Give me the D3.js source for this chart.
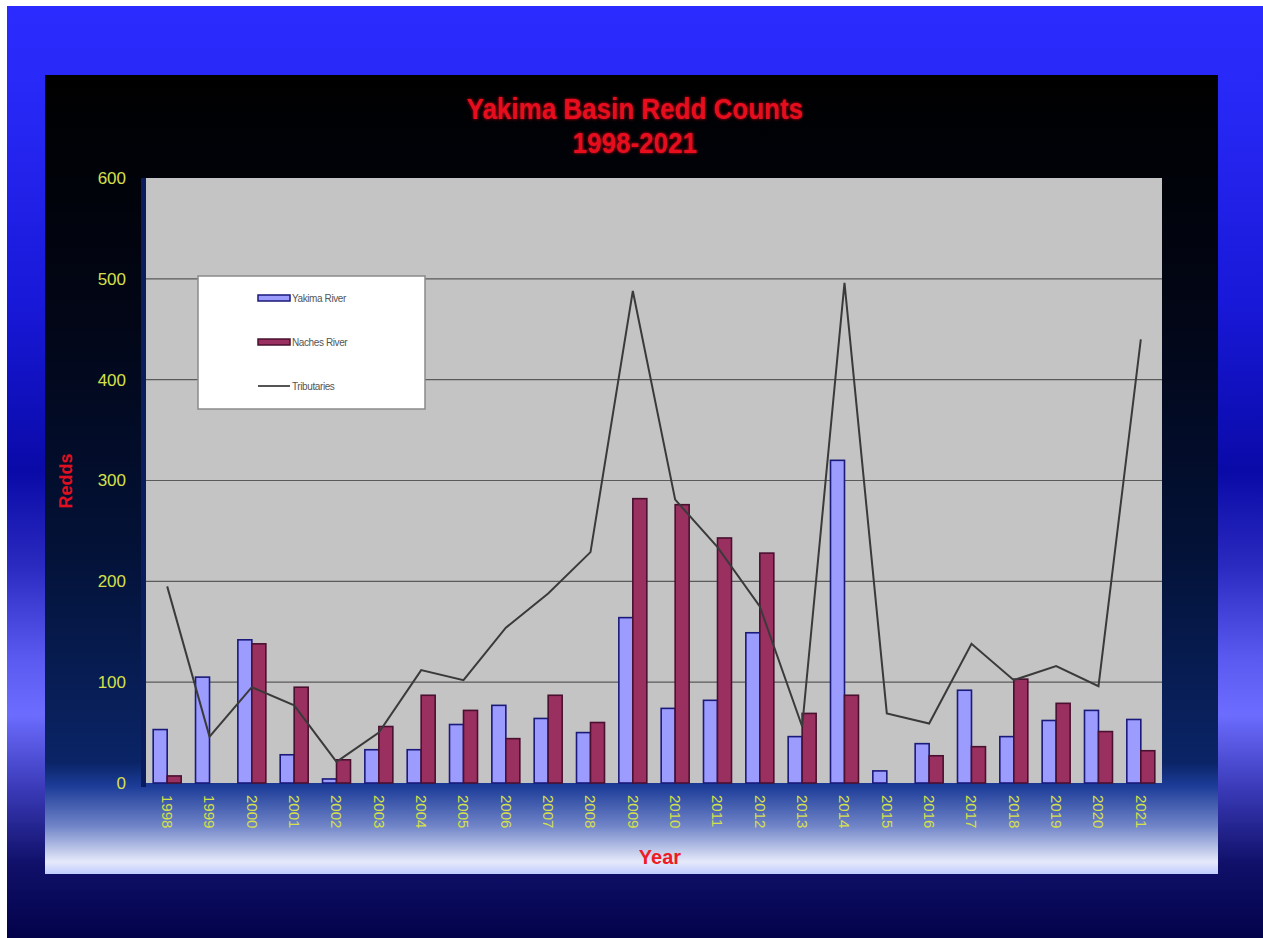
<!DOCTYPE html>
<html>
<head>
<meta charset="utf-8">
<script src="https://cdn.jsdelivr.net/npm/d3@7/dist/d3.min.js"></script>
<style>
  html, body { margin: 0; padding: 0; background: #ffffff; }
  svg { display: block; }
</style>
</head>
<body>
<script>
// Yakima Basin redd counts, 1998-2021
const years = ["1998","1999","2000","2001","2002","2003","2004","2005","2006","2007","2008","2009",
               "2010","2011","2012","2013","2014","2015","2016","2017","2018","2019","2020","2021"];
const yakimaRiver = [53, 105, 142, 28, 4, 33, 33, 58, 77, 64, 50, 164, 74, 82, 149, 46, 320, 12, 39, 92, 46, 62, 72, 63];
const nachesRiver = [7, 0, 138, 95, 23, 56, 87, 72, 44, 87, 60, 282, 276, 243, 228, 69, 87, 0, 27, 36, 103, 79, 51, 32];
const tributaries = [195, 46, 95, 77, 21, 50, 112, 102, 154, 188, 229, 488, 281, 234, 175, 56, 496, 69, 59, 138, 102, 116, 96, 440];
const yTicks = [0, 100, 200, 300, 400, 500, 600];
const seriesNames = ["Yakima River", "Naches River", "Tributaries"];

const W = 1263, H = 938;
const plot = { left: 146, right: 1162, top: 178, bottom: 783 };

const svg = d3.select("body").append("svg").attr("width", W).attr("height", H);
const defs = svg.append("defs");

// slide background gradient
const bg = defs.append("linearGradient").attr("id", "slideBg").attr("x1", 0).attr("y1", 0).attr("x2", 0).attr("y2", 1);
[[0, "#2b2bff"], [0.12, "#2727f4"], [0.32, "#1818d8"], [0.5, "#0a0aa8"], [0.6, "#2a2ac0"],
 [0.7, "#5a5af0"], [0.76, "#6c6cff"], [0.84, "#3a3ab8"], [0.92, "#10106a"], [1, "#02024a"]]
  .forEach(([o, c]) => bg.append("stop").attr("offset", o).attr("stop-color", c));

// inner panel gradient: black top fading to navy, then light at the foot
const pg = defs.append("linearGradient").attr("id", "panelBg").attr("x1", 0).attr("y1", 0).attr("x2", 0).attr("y2", 1);
[[0, "#000000"], [0.3, "#020616"], [0.6, "#031238"], [0.86, "#0a2466"], [0.89, "#1c3c98"],
 [0.94, "#7084c8"], [0.985, "#e6eafa"], [1, "#c0ccff"]]
  .forEach(([o, c]) => pg.append("stop").attr("offset", o).attr("stop-color", c));

// soft glow for the red titles
const glow = defs.append("filter").attr("id", "glow").attr("x", "-10%").attr("y", "-30%").attr("width", "120%").attr("height", "160%");
glow.append("feGaussianBlur").attr("in", "SourceGraphic").attr("stdDeviation", 1.6).attr("result", "b");
const merge = glow.append("feMerge");
merge.append("feMergeNode").attr("in", "b");
merge.append("feMergeNode").attr("in", "SourceGraphic");

svg.append("rect").attr("x", 7).attr("y", 6).attr("width", W - 7).attr("height", H - 6).attr("fill", "url(#slideBg)");
svg.append("rect").attr("x", 45).attr("y", 75).attr("width", 1173).attr("height", 799).attr("fill", "url(#panelBg)");

// scales
const x0 = d3.scaleBand().domain(years).range([plot.left, plot.right]).paddingInner(0.339).paddingOuter(0.17);
const x1 = d3.scaleBand().domain(["yakima", "naches"]).range([0, x0.bandwidth()]);
const y = d3.scaleLinear().domain([0, 600]).range([plot.bottom, plot.top]);

// plot wall and side
svg.append("rect").attr("x", plot.left - 5).attr("y", plot.top).attr("width", 5).attr("height", plot.bottom - plot.top + 4).attr("fill", "#0b1c5e");
svg.append("rect").attr("x", plot.left).attr("y", plot.top).attr("width", plot.right - plot.left).attr("height", plot.bottom - plot.top).attr("fill", "#c4c4c4");

// gridlines
svg.append("g").selectAll("line").data(yTicks.filter(t => t > 0 && t < 600)).join("line")
  .attr("x1", plot.left).attr("x2", plot.right)
  .attr("y1", d => y(d)).attr("y2", d => y(d))
  .attr("stroke", "#5a5a5a").attr("stroke-width", 1.2);

// y axis labels
const yAxis = d3.axisLeft(y).tickValues(yTicks).tickSize(0).tickPadding(18);
const gy = svg.append("g").attr("transform", `translate(${plot.left},0)`).call(yAxis);
gy.select(".domain").remove();
gy.selectAll("text").attr("fill", "#d6e04a").attr("font-family", "Liberation Sans, Arial, sans-serif")
  .attr("font-size", 17).attr("dx", "-2");

// bars
const groups = svg.append("g").selectAll("g").data(years).join("g")
  .attr("transform", d => `translate(${x0(d)},0)`);
groups.append("rect")
  .attr("x", x1("yakima")).attr("width", x1.bandwidth())
  .attr("y", (d, i) => y(yakimaRiver[i])).attr("height", (d, i) => y(0) - y(yakimaRiver[i]))
  .attr("fill", "#9c9cff").attr("stroke", "#1a1a7a").attr("stroke-width", 1.6);
groups.append("rect")
  .attr("x", x1("naches")).attr("width", x1.bandwidth())
  .attr("y", (d, i) => y(nachesRiver[i])).attr("height", (d, i) => y(0) - y(nachesRiver[i]))
  .attr("fill", "#9a3060").attr("stroke", "#4a1030").attr("stroke-width", 1.6)
  .attr("display", (d, i) => nachesRiver[i] > 0 ? null : "none");

// tributaries line
const line = d3.line()
  .x((d, i) => x0(years[i]) + x0.bandwidth() / 2)
  .y(d => y(d));
svg.append("path").datum(tributaries).attr("d", line)
  .attr("fill", "none").attr("stroke", "#3a3a3a").attr("stroke-width", 2);

// x axis labels (vertical)
const xAxis = d3.axisBottom(x0).tickSize(0).tickPadding(0);
const gx = svg.append("g").attr("transform", `translate(0,${plot.bottom})`).call(xAxis);
gx.select(".domain").remove();
gx.selectAll("text")
  .attr("fill", "#d6e04a").attr("font-family", "Liberation Sans, Arial, sans-serif").attr("font-size", 15)
  .attr("text-anchor", "start").attr("dy", "0.35em")
  .attr("transform", "translate(0,12) rotate(90)");

// axis titles
svg.append("text").attr("x", 660).attr("y", 864).attr("text-anchor", "middle")
  .attr("font-family", "Liberation Sans, Arial, sans-serif").attr("font-weight", "bold").attr("font-size", 20)
  .attr("fill", "#ee1c24").text("Year");
svg.append("text").attr("transform", "translate(72,481) rotate(-90)").attr("text-anchor", "middle")
  .attr("font-family", "Liberation Sans, Arial, sans-serif").attr("font-weight", "bold").attr("font-size", 18)
  .attr("fill", "#e01020").text("Redds");

// title, slightly condensed and tall
const title = svg.append("g").attr("transform", "translate(635,0) scale(1,1.12)")
  .append("text").attr("text-anchor", "middle")
  .attr("font-family", "Liberation Sans, Arial, sans-serif").attr("font-weight", "bold").attr("font-size", 26)
  .attr("fill", "#e8101c").attr("filter", "url(#glow)");
title.append("tspan").attr("x", 0).attr("y", 106).text("Yakima Basin Redd Counts");
title.append("tspan").attr("x", 0).attr("y", 137).text("1998-2021");

// legend
const lg = svg.append("g").attr("transform", "translate(198,276)");
lg.append("rect").attr("width", 227).attr("height", 133).attr("fill", "#ffffff").attr("stroke", "#8a8a8a").attr("stroke-width", 1.5);
const legendStyles = [
  { fill: "#9c9cff", stroke: "#1a1a7a", kind: "bar" },
  { fill: "#9a3060", stroke: "#4a1030", kind: "bar" },
  { fill: "none", stroke: "#555555", kind: "line" }
];
const items = lg.selectAll("g.item").data(seriesNames).join("g").attr("class", "item")
  .attr("transform", (d, i) => `translate(60,${22 + i * 44})`);
items.each(function (d, i) {
  const g = d3.select(this);
  const s = legendStyles[i];
  if (s.kind === "bar") {
    g.append("rect").attr("x", 0).attr("y", -3).attr("width", 32).attr("height", 6)
      .attr("fill", s.fill).attr("stroke", s.stroke).attr("stroke-width", 1.5);
  } else {
    g.append("line").attr("x1", 0).attr("x2", 32).attr("y1", 0).attr("y2", 0)
      .attr("stroke", s.stroke).attr("stroke-width", 2);
  }
});
items.append("text").attr("x", 34).attr("y", 0).attr("dy", "0.35em")
  .attr("font-family", "Liberation Sans, Arial, sans-serif").attr("font-size", 10).attr("fill", "#555555")
  .attr("letter-spacing", "-0.4")
  .text(d => d);
</script>
</body>
</html>
